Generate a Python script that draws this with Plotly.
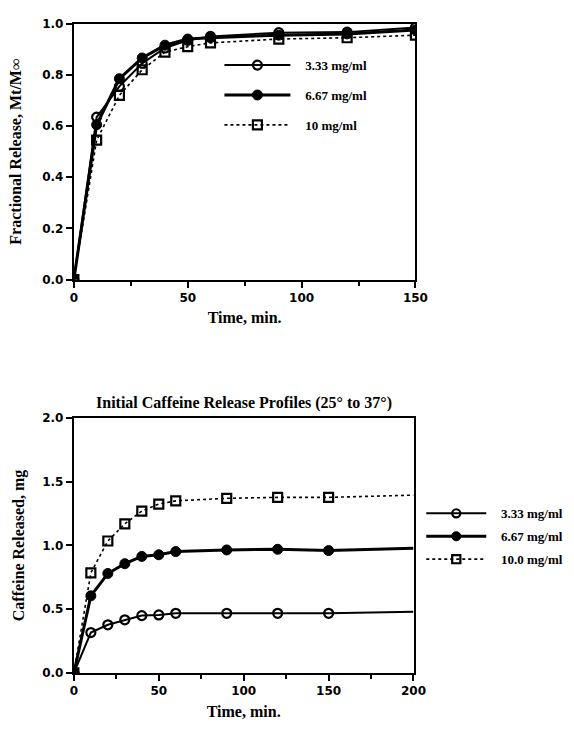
import plotly.graph_objects as go

# ---- Top chart data: fractional release ----
t_top = [0, 10, 20, 30, 40, 50, 60, 90, 120, 150]
fr_333 = [0.0, 0.635, 0.755, 0.845, 0.905, 0.935, 0.950, 0.965, 0.967, 0.985]
fr_667 = [0.0, 0.605, 0.785, 0.866, 0.916, 0.940, 0.945, 0.955, 0.960, 0.975]
fr_10 = [0.0, 0.545, 0.720, 0.820, 0.889, 0.910, 0.925, 0.940, 0.945, 0.955]

# ---- Bottom chart data: caffeine released (mg) ----
t_bot = [0, 10, 20, 30, 40, 50, 60, 90, 120, 150, 200]
cr_333 = [0.0, 0.317, 0.378, 0.417, 0.450, 0.455, 0.468, 0.468, 0.468, 0.468, 0.480]
cr_667 = [0.0, 0.605, 0.780, 0.857, 0.914, 0.927, 0.952, 0.965, 0.970, 0.960, 0.978]
cr_100 = [0.0, 0.785, 1.035, 1.170, 1.270, 1.325, 1.350, 1.370, 1.377, 1.377, 1.395]

top_names = ["3.33 mg/ml", "6.67 mg/ml", "10 mg/ml"]
bot_names = ["3.33 mg/ml", "6.67 mg/ml", "10.0 mg/ml"]

PAD = "\u00a0\u00a0\u00a0"

styles = [
    dict(line=dict(color="black", width=2, dash="solid"),
         marker=dict(symbol="circle-open", color="black", size=9, opacity=1,
                     line=dict(width=2.2, color="black"))),
    dict(line=dict(color="black", width=3, dash="solid"),
         marker=dict(symbol="circle", color="black", size=10, opacity=1,
                     line=dict(width=1, color="black"))),
    dict(line=dict(color="black", width=1.6, dash="dot"),
         marker=dict(symbol="square-open", color="black", size=9, opacity=1,
                     line=dict(width=2.2, color="black"))),
]

fig = go.Figure()

for name, ys, st, g in zip(top_names, [fr_333, fr_667, fr_10], styles, ["a", "b", "c"]):
    fig.add_trace(go.Scatter(x=t_top, y=ys, name=PAD + name, mode="lines+markers",
                             line=st["line"], marker=st["marker"],
                             xaxis="x", yaxis="y", legend="legend", legendgroup="t" + g))

for name, ys, st, g in zip(bot_names, [cr_333, cr_667, cr_100], styles, ["a", "b", "c"]):
    sizes = [st["marker"]["size"]] * (len(t_bot) - 1) + [0]
    mk = dict(st["marker"])
    mk["size"] = sizes
    fig.add_trace(go.Scatter(x=t_bot, y=ys, name=PAD + name, mode="lines+markers",
                             line=st["line"], marker=mk,
                             xaxis="x2", yaxis="y2", legend="legend2", legendgroup="b" + g))

W, H = 574, 730
tick_font = dict(family="DejaVu Sans", size=12, color="black", weight="bold")
title_font = dict(family="Liberation Serif", size=16, color="black", weight="bold")

axis_common = dict(showline=True, linecolor="black", linewidth=2, mirror=True,
                   ticks="outside", ticklen=6, tickwidth=2, tickcolor="black",
                   showgrid=False, zeroline=False, tickfont=tick_font)

fig.update_layout(
    width=W, height=H,
    margin=dict(l=0, r=0, t=0, b=0),
    paper_bgcolor="white", plot_bgcolor="white",
    xaxis=dict(domain=[72 / W, 424 / W], range=[0, 150], dtick=50, anchor="y",
               minor=dict(dtick=25, ticks="outside", ticklen=4, tickwidth=2, tickcolor="black"),
               title=dict(text="Time, min.", font=title_font, standoff=8), **axis_common),
    yaxis=dict(domain=[1 - 278 / H, 1 - 17 / H], range=[0, 1.0], dtick=0.2, anchor="x",
               tickformat=".1f",
               title=dict(text="Fractional Release, Mt/M∞", font=title_font, standoff=17), **axis_common),
    xaxis2=dict(domain=[72 / W, 422 / W], range=[0, 200], dtick=50, anchor="y2",
                minor=dict(dtick=25, ticks="outside", ticklen=4, tickwidth=2, tickcolor="black"),
                title=dict(text="Time, min.", font=title_font, standoff=8), **axis_common),
    yaxis2=dict(domain=[1 - 679 / H, 1 - 419 / H], range=[0, 2.0], dtick=0.5, anchor="x2",
                tickformat=".1f",
                title=dict(text="Caffeine Released, mg", font=title_font, standoff=14), **axis_common),
    legend=dict(x=222 / W, y=1 - 44 / H, xanchor="left", yanchor="top",
                bgcolor="rgba(0,0,0,0)", itemwidth=66, tracegroupgap=10,
                font=dict(family="Liberation Serif", size=13, color="black", weight="bold")),
    legend2=dict(x=430 / W, y=1 - 501 / H, xanchor="left", yanchor="top",
                 bgcolor="rgba(0,0,0,0)", itemwidth=60, tracegroupgap=3,
                 font=dict(family="Liberation Serif", size=13, color="black", weight="bold")),
    annotations=[dict(text="Initial Caffeine Release Profiles (25° to 37°)",
                      xref="paper", yref="paper", x=(72 + 422) / 2 / W, y=1 - 404 / H,
                      xanchor="center", yanchor="middle", showarrow=False,
                      font=title_font)],
)

fig.write_html("out.html")
